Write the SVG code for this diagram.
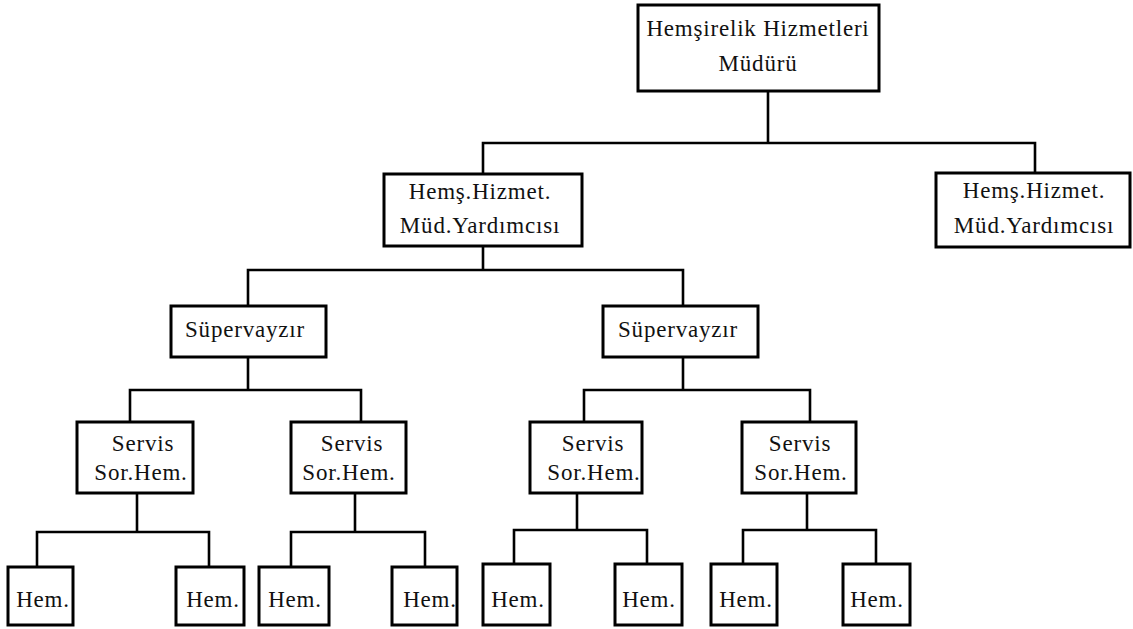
<svg xmlns="http://www.w3.org/2000/svg" width="1133" height="629" viewBox="0 0 1133 629">
  <style>
    .box { fill: #ffffff; stroke: #000000; stroke-width: 3; }
    .wire { fill: none; stroke: #000000; stroke-width: 2.6; stroke-linecap: square; }
    .lbl { font-family: 'Liberation Serif', 'Times New Roman', Times, serif; font-size: 23px; fill: #111111; text-anchor: middle; letter-spacing: 0.8px; }
  </style>
  <rect width="1133" height="629" fill="#ffffff"/>

  <!-- connectors -->
  <g id="connectors" class="wire">
    <path d="M768 91 V143 M483 143 H1035 M483 143 V174 M1035 143 V173"/>
    <path d="M483 246 V270 M248 270 H683 M248 270 V306 M683 270 V306"/>
    <path d="M248 357 V390 M130 390 H361 M130 390 V422 M361 390 V422"/>
    <path d="M683 357 V390 M584 390 H810 M584 390 V422 M810 390 V422"/>
    <path d="M137 493 V532 M37 532 H209 M37 532 V567 M209 532 V567"/>
    <path d="M355 493 V532 M291 532 H425 M291 532 V567 M425 532 V567"/>
    <path d="M577 493 V530 M514 530 H647 M514 530 V564 M647 530 V564"/>
    <path d="M807 493 V530 M743 530 H876 M743 530 V564 M876 530 V564"/>
  </g>

  <g class="lbl" font-family="Liberation Serif, serif">
    <!-- top -->
    <g id="mudur">
      <rect class="box" x="638" y="5" width="241" height="86"/>
      <text x="758" y="36">Hemşirelik Hizmetleri</text>
      <text x="758" y="71">Müdürü</text>
    </g>

    <!-- deputies -->
    <g id="yardimci-1">
      <rect class="box" x="384" y="174" width="198" height="72"/>
      <text x="480" y="199">Hemş.Hizmet.</text>
      <text x="480" y="233">Müd.Yardımcısı</text>
    </g>
    <g id="yardimci-2">
      <rect class="box" x="936" y="173" width="194" height="74"/>
      <text x="1034" y="198">Hemş.Hizmet.</text>
      <text x="1034" y="233">Müd.Yardımcısı</text>
    </g>

    <!-- supervisors -->
    <g id="supervayzir-1">
      <rect class="box" x="171" y="306" width="155" height="51"/>
      <text x="245" y="337">Süpervayzır</text>
    </g>
    <g id="supervayzir-2">
      <rect class="box" x="603" y="306" width="155" height="51"/>
      <text x="678" y="337">Süpervayzır</text>
    </g>

    <!-- ward head nurses -->
    <g id="servis-1">
      <rect class="box" x="77" y="422" width="116" height="71"/>
      <text x="143" y="451">Servis</text>
      <text x="141" y="480">Sor.Hem.</text>
    </g>
    <g id="servis-2">
      <rect class="box" x="291" y="422" width="115" height="71"/>
      <text x="352" y="451">Servis</text>
      <text x="349" y="480">Sor.Hem.</text>
    </g>
    <g id="servis-3">
      <rect class="box" x="530" y="422" width="112" height="71"/>
      <text x="593" y="451">Servis</text>
      <text x="594" y="480">Sor.Hem.</text>
    </g>
    <g id="servis-4">
      <rect class="box" x="742" y="422" width="114" height="71"/>
      <text x="800" y="451">Servis</text>
      <text x="801" y="480">Sor.Hem.</text>
    </g>

    <!-- nurses -->
    <g id="hem-1"><rect class="box" x="8" y="567" width="65" height="58"/><text x="43" y="607">Hem.</text></g>
    <g id="hem-2"><rect class="box" x="176" y="567" width="68" height="58"/><text x="213" y="607">Hem.</text></g>
    <g id="hem-3"><rect class="box" x="259" y="567" width="70" height="58"/><text x="295" y="607">Hem.</text></g>
    <g id="hem-4"><rect class="box" x="392" y="567" width="65" height="58"/><text x="430" y="607">Hem.</text></g>
    <g id="hem-5"><rect class="box" x="483" y="564" width="67" height="61"/><text x="518" y="607">Hem.</text></g>
    <g id="hem-6"><rect class="box" x="615" y="564" width="67" height="61"/><text x="649" y="607">Hem.</text></g>
    <g id="hem-7"><rect class="box" x="711" y="564" width="66" height="61"/><text x="746" y="607">Hem.</text></g>
    <g id="hem-8"><rect class="box" x="843" y="564" width="67" height="61"/><text x="877" y="607">Hem.</text></g>
  </g>
</svg>
